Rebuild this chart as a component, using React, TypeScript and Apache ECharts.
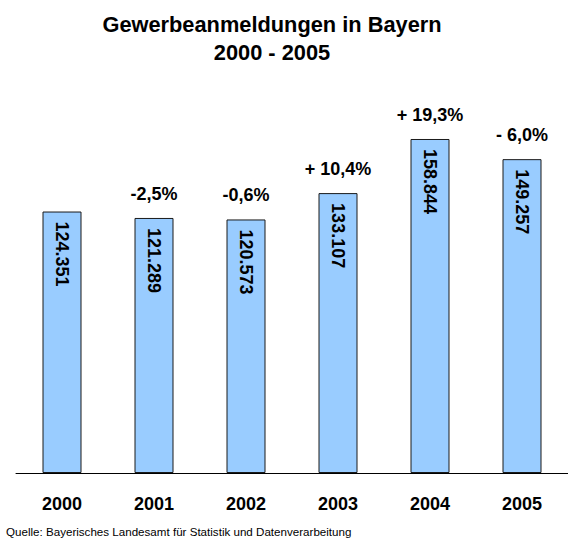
import React, { useEffect, useRef } from "react";
import * as echarts from "echarts";

const categories = ["2000", "2001", "2002", "2003", "2004", "2005"];
const values = [124351, 121289, 120573, 133107, 158844, 149257];
const valueLabels = ["124.351", "121.289", "120.573", "133.107", "158.844", "149.257"];
const changeLabels = ["", "-2,5%", "-0,6%", "+ 10,4%", "+ 19,3%", "- 6,0%"];

const FONT = "'Liberation Sans', Arial, Helvetica, sans-serif";

export default function App() {
  const ref = useRef<HTMLDivElement>(null);
  useEffect(() => {
    if (!ref.current) return;
    const chart = echarts.init(ref.current, null, { renderer: "svg" });
    chart.setOption({
      animation: false,
      backgroundColor: "#ffffff",
      title: [
        {
          text: "Gewerbeanmeldungen in Bayern\n2000 - 2005",
          left: 272,
          top: 10,
          padding: 0,
          textAlign: "center",
          textStyle: {
            fontFamily: FONT,
            fontWeight: "bold",
            fontSize: 21.8,
            lineHeight: 28,
            color: "#000",
          },
        },
        {
          text: "Quelle: Bayerisches Landesamt für Statistik und Datenverarbeitung",
          left: 6,
          top: 524,
          padding: 0,
          textStyle: {
            fontFamily: FONT,
            fontWeight: "normal",
            fontSize: 11.6,
            lineHeight: 14,
            color: "#000",
          },
        },
      ],
      grid: { left: 16, width: 555, top: 94.5, bottom: 65, containLabel: false },
      xAxis: {
        type: "category",
        data: categories,
        axisLine: { show: true, lineStyle: { color: "#000", width: 1 } },
        axisTick: { show: false },
        axisLabel: {
          margin: 22,
          fontFamily: FONT,
          fontWeight: "bold",
          fontSize: 18,
          color: "#000",
        },
      },
      yAxis: {
        type: "value",
        min: 0,
        max: 180000,
        show: false,
        splitLine: { show: false },
      },
      series: [
        {
          type: "bar",
          data: values,
          barWidth: 39,
          itemStyle: { color: "#99CCFF", borderColor: "#1a1a1a", borderWidth: 1 },
          label: {
            show: true,
            position: "insideTop",
            distance: 10,
            rotate: -90,
            align: "left",
            verticalAlign: "middle",
            formatter: (p: any) => valueLabels[p.dataIndex],
            fontFamily: FONT,
            fontWeight: "bold",
            fontSize: 18,
            color: "#000",
          },
        },
        {
          type: "bar",
          data: values,
          barWidth: 39,
          barGap: "-100%",
          itemStyle: { color: "transparent" },
          label: {
            show: true,
            position: "top",
            distance: 15,
            formatter: (p: any) => changeLabels[p.dataIndex],
            fontFamily: FONT,
            fontWeight: "bold",
            fontSize: 18,
            color: "#000",
          },
          silent: true,
          z: 3,
        },
      ],
    });
    return () => chart.dispose();
  }, []);
  return (
    <div
      ref={ref}
      style={{ position: "fixed", left: 0, top: 0, width: 568, height: 538 }}
    />
  );
}
